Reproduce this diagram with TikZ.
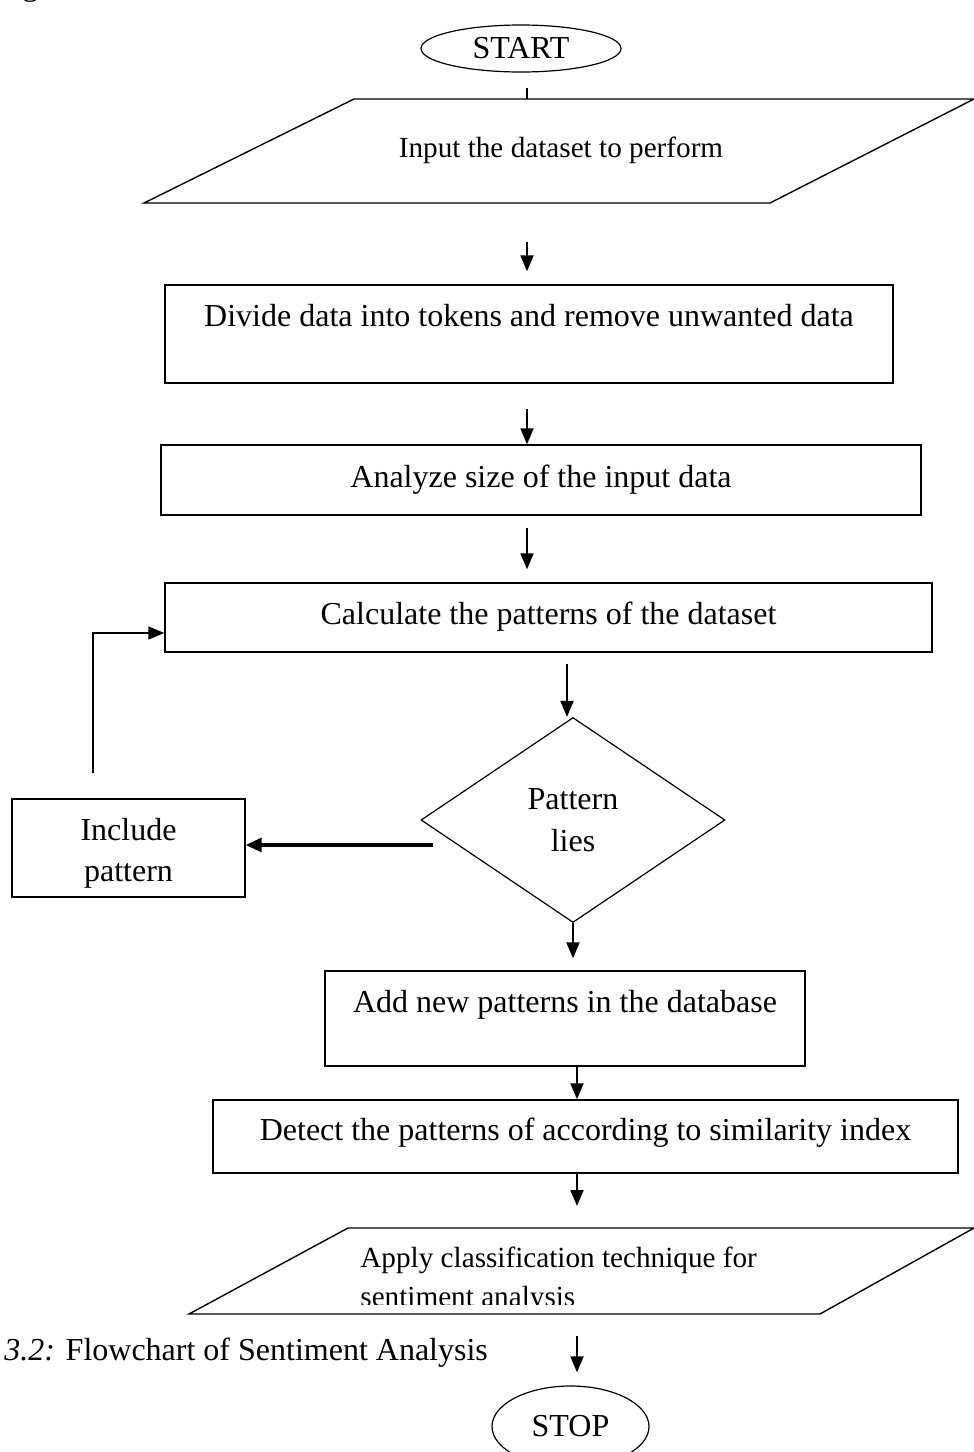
\documentclass[tikz,border=0pt]{standalone}
\usepackage{fontspec}
\setmainfont{Liberation Serif}
\usetikzlibrary{shapes.geometric,arrows.meta}
\definecolor{flowink}{HTML}{000000}

\begin{document}
\begin{tikzpicture}[
  x=0.5pt,
  y=-0.5pt,
  every node/.style={font=\fontsize{16}{20.75}\selectfont, inner sep=0pt, text=flowink},
  oneline/.style={text height=10.6pt, text depth=3.4pt},
  procbox/.style={draw=flowink, line width=0.7pt, rectangle},
  termbox/.style={draw=flowink, line width=0.6pt, ellipse},
  decbox/.style={draw=flowink, line width=0.6pt, diamond, align=center},
  iotext/.style={font=\fontsize{14.6}{19.5}\selectfont},
  ioline/.style={draw=flowink, line width=0.7pt},
  flow/.style={draw=flowink, line width=1pt, -{Triangle[length=8pt,width=6.5pt]}},
  thickflow/.style={flow, line width=1.6pt, -{Triangle[length=8pt,width=7pt]}},
  plain/.style={draw=flowink, line width=1pt}
]
  \useasboundingbox (0,0) rectangle (974,1452);

  % x positions of the vertical arrows
  \coordinate (colA) at (527,0);
  \coordinate (colB) at (567,0);
  \coordinate (colC) at (577,0);

  \node[termbox, minimum width=100pt, minimum height=23.5pt] (start) at (521,48.5) {START};

  % input parallelogram
  \coordinate (inNW) at (354,99);
  \coordinate (inNE) at (974,99);
  \coordinate (inSE) at (770,203);
  \coordinate (inSW) at (144,203);
  \draw[ioline] (inNW) -- (inNE) -- (inSE) -- (inSW) -- cycle;
  \node[iotext, text height=10pt, text depth=4pt] (input) at (561,151) {Input the dataset to perform};

  \node[procbox, oneline, text depth=18.6pt, minimum width=364pt, minimum height=49pt] (divide) at (529,334) {Divide data into tokens and remove unwanted data};
  \node[procbox, oneline, minimum width=380pt, minimum height=35pt] (analyze) at (541,480) {Analyze size of the input data};
  \node[procbox, oneline, minimum width=383.5pt, minimum height=34.5pt] (calc) at (548.5,617.5) {Calculate the patterns of the dataset};
  \node[decbox, minimum width=152pt, minimum height=102.5pt] (decide) at (573,820) {Pattern\\lies};
  \node[procbox, align=center, text height=37pt, minimum width=116.5pt, minimum height=49pt] (include) at (128.5,848) {Include\\pattern};
  \node[procbox, oneline, text depth=17.1pt, minimum width=240pt, minimum height=47.5pt] (add) at (565,1018.5) {Add new patterns in the database};
  \node[procbox, oneline, text depth=7.1pt, minimum width=372.5pt, minimum height=36.5pt] (detect) at (585.5,1136.5) {Detect the patterns of according to similarity index};

  % output parallelogram, its text cut off at the lower edge
  \coordinate (apNW) at (348,1228);
  \coordinate (apNE) at (974,1228);
  \coordinate (apSE) at (820,1314);
  \coordinate (apSW) at (189,1314);
  \draw[ioline] (apNW) -- (apNE) -- (apSE) -- (apSW) -- cycle;
  \begin{scope}
    \clip (189,1228) rectangle (974,1304);
    \node[iotext, align=left, anchor=base west] (apply) at (360,1306) {Apply classification technique for\\sentiment analysis};
  \end{scope}

  \node[termbox, minimum width=78.5pt, minimum height=40.5pt] (stop) at (570.5,1426.5) {STOP};

  \node[anchor=base west] (caption) at (4,1360) {\textit{3.2:} Flowchart of Sentiment Analysis};
  \node[anchor=base west] (figtag) at (22,-5) {g};

  % connectors
  \draw[plain, shorten <=7.5pt] (start.south -| colA) -- (inNW -| colA);
  \draw[flow, shorten <=19.5pt, shorten >=6.5pt] (inSW -| colA) -- (divide.north -| colA);
  \draw[flow, shorten <=12.5pt] (divide.south -| colA) -- (analyze.north -| colA);
  \draw[flow, shorten <=6pt, shorten >=6.5pt] (analyze.south -| colA) -- (calc.north -| colA);
  \draw[flow, shorten <=5.5pt] (calc.south -| colB) -- (decide.north -| colB);

  \coordinate (back-tail) at (433,845);
  \draw[thickflow] (back-tail) -- (back-tail -| include.east);
  \coordinate (loop-tail) at (93,773);
  \coordinate (loop-turn) at (93,633);
  \draw[flow, line width=0.8pt] (loop-tail) -- (loop-turn) -- (loop-turn -| calc.west);

  \draw[flow, shorten >=6pt] (decide.south) -- (add.north -| decide.south);
  \draw[flow] (add.south -| colC) -- (detect.north -| colC);
  \draw[flow, shorten >=11pt] (detect.south -| colC) -- (apNW -| colC);
  \draw[flow, shorten <=11pt, shorten >=6.5pt] (apSW -| colC) -- (stop.north -| colC);
\end{tikzpicture}
\end{document}
